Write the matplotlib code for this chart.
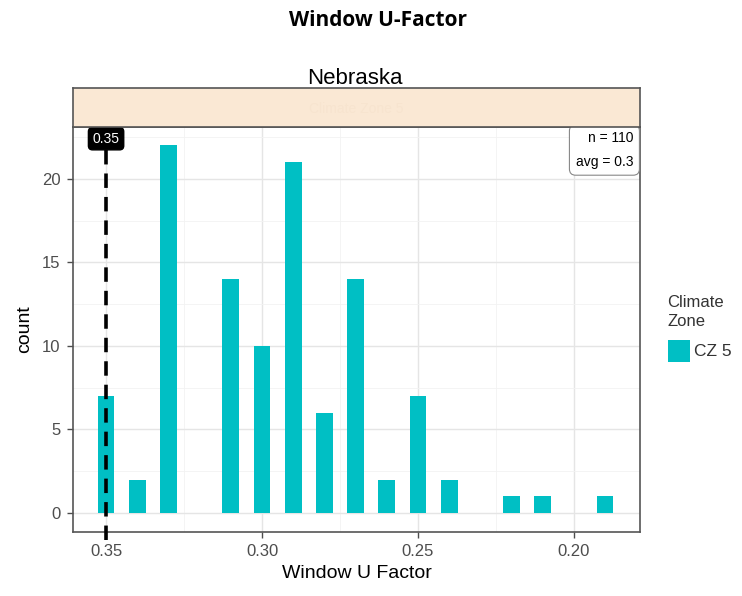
import numpy as np
import matplotlib
matplotlib.use("Agg")
import matplotlib.pyplot as plt
from matplotlib.ticker import MultipleLocator

plt.rcParams["font.family"] = ["Liberation Sans", "DejaVu Sans"]

# =========================
# DATA
# =========================
u_factor = [0.35, 0.34, 0.33, 0.31, 0.30, 0.29, 0.28, 0.27, 0.26, 0.25, 0.24, 0.22, 0.21, 0.19]
counts = [7, 2, 22, 14, 10, 21, 6, 14, 2, 7, 2, 1, 1, 1]
x_ticks = [0.35, 0.30, 0.25, 0.20]
y_ticks = [0, 5, 10, 15, 20]
code_value = 0.35
state = "Nebraska"
zone = "CZ 5"

BAR_COLOR = "#00BFC4"
TICK_COLOR = "#4D4D4D"

# =========================
# FIGURE
# =========================
fig = plt.figure(figsize=(7.42, 5.96), dpi=100)

ax = fig.add_axes([0.0984, 0.1074, 0.7641, 0.6795])
strip = fig.add_axes([0.0984, 0.7869, 0.7641, 0.0654])

ax.bar(u_factor, counts, width=0.0054, color=BAR_COLOR, zorder=3)

ax.set_xlim(0.3606, 0.1788)
ax.set_ylim(-1.14, 23.1)
ax.set_xticks(x_ticks)
ax.set_xticklabels([f"{v:.2f}" for v in x_ticks])
ax.set_yticks(y_ticks)
ax.xaxis.set_minor_locator(MultipleLocator(0.025))
ax.yaxis.set_minor_locator(MultipleLocator(2.5))

ax.grid(which="major", color="#E5E5E5", linewidth=1.0, zorder=0)
ax.grid(which="minor", color="#F2F2F2", linewidth=0.6, zorder=0)
ax.tick_params(which="minor", length=0)
ax.tick_params(which="major", labelsize=12, colors=TICK_COLOR, length=4, width=1, pad=5)
for s in ax.spines.values():
    s.set_color("#555555")
    s.set_linewidth(1.2)

ax.set_xlabel("Window U Factor", fontsize=14, labelpad=4)
ax.set_ylabel("count", fontsize=14, labelpad=6)

# code requirement line
ax.axvline(code_value, color="black", linestyle=(0, (4, 2.5)), linewidth=2.6,
           ymin=-0.02, ymax=1.0, zorder=4, clip_on=False)
ax.text(code_value, 22.4, f"{code_value:.2f}", color="white", fontsize=10,
        ha="center", va="center", zorder=6,
        bbox=dict(boxstyle="round,pad=0.3", fc="black", ec="black"))

# stats box
ax.text(0.988, 0.99, f"n = {sum(counts)}\navg = 0.3", transform=ax.transAxes,
        ha="right", va="top", fontsize=10, linespacing=1.9, zorder=6,
        bbox=dict(boxstyle="round,pad=0.45", fc="white", ec="#888888", lw=0.8))

# strip on top
strip.set_facecolor("#FAE8D4")
strip.set_xticks([])
strip.set_yticks([])
for s in strip.spines.values():
    s.set_color("#555555")
    s.set_linewidth(1.2)
strip.text(0.5, 0.45, "Climate Zone 5", transform=strip.transAxes, ha="center",
           va="center", fontsize=10, color="#F7E4CF")

fig.text(0.478, 0.868, state, ha="center", va="center", fontsize=16)
fig.text(0.509, 0.966, "Window U-Factor", ha="center", va="center",
         fontsize=15, fontweight="bold", family=["Open Sans", "DejaVu Sans"])

# legend
fig.text(0.899, 0.476, "Climate\nZone", ha="left", va="center", fontsize=12,
         color="#333333", linespacing=1.35)
fig.patches.append(plt.Rectangle((0.9, 0.393), 0.03, 0.037, transform=fig.transFigure,
                                 facecolor=BAR_COLOR, edgecolor="none"))
fig.text(0.935, 0.411, zone, ha="left", va="center", fontsize=12.5, color="#333333")

fig.savefig("out.png", dpi=100)
print("done")
